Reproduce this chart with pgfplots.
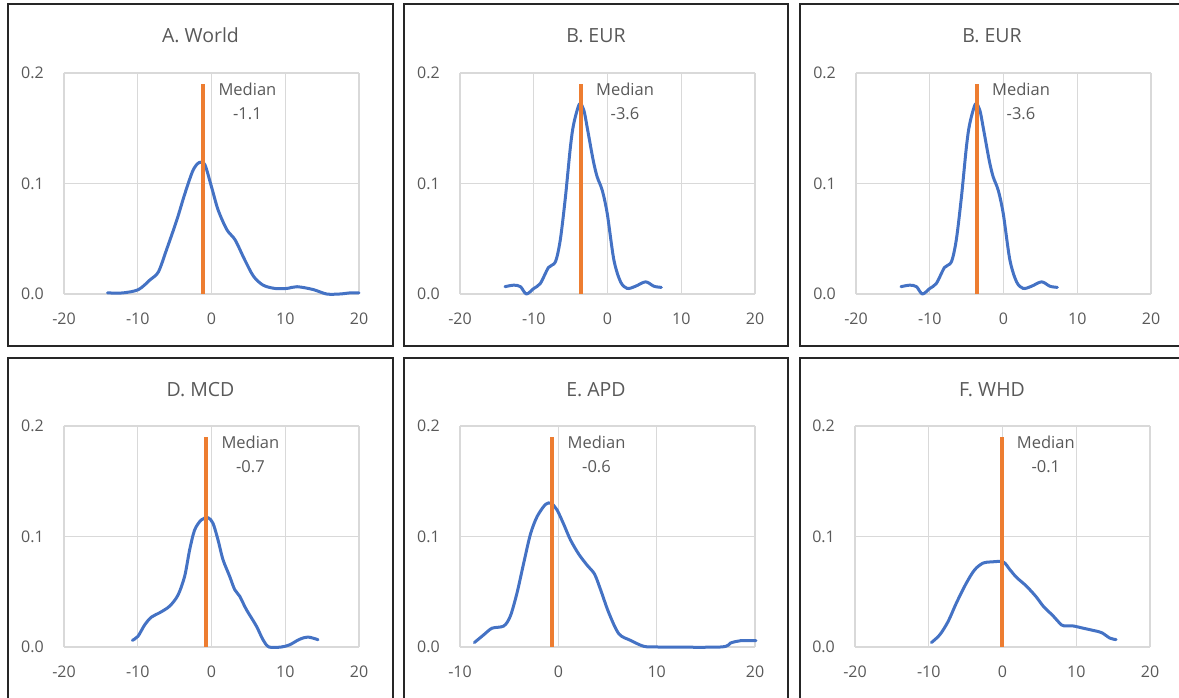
\documentclass[border=0pt]{standalone}
\usepackage{pgfplots}
\pgfplotsset{compat=1.18}
\usepackage{fontspec}
\setmainfont{Open Sans}
\definecolor{cblue}{HTML}{4472C4}
\definecolor{corange}{HTML}{ED7D31}
\definecolor{gridc}{HTML}{D9D9D9}
\definecolor{txt}{HTML}{595959}
\definecolor{frame}{HTML}{262626}
\pgfplotsset{
  panel/.style={
    scale only axis, width=295pt, height=221pt, anchor=south west,
    xmin=-20, xmax=20, ymin=0, ymax=0.2,
    xtick={-20,-10,0,10,20}, ytick={0,0.1,0.2},
    grid=major, major grid style={draw=gridc, line width=1.2pt},
    axis line style={draw=none}, major tick length=0pt, tick style={draw=none},
    clip=false,
    /pgf/number format/assume math mode=true,
    tick label style={font=\fontsize{16}{19}\selectfont, text=txt, inner sep=0pt},
    yticklabel style={/pgf/number format/fixed, /pgf/number format/fixed zerofill, /pgf/number format/precision=1, xshift=-20pt},
    xticklabel style={yshift=-19pt},
  },
}
\tikzset{
  dens/.style={cblue, line width=3pt, smooth, line cap=round, line join=round},
  med/.style={corange, line width=4pt},
  medlab/.style={anchor=north west, xshift=15pt, yshift=1pt, align=center, inner sep=0pt, font=\fontsize{16.5}{24}\selectfont, text=txt},
  ttl/.style={anchor=base, font=\fontsize{19.5}{23}\selectfont, text=txt},
}
\begin{document}
\begin{tikzpicture}[x=1pt,y=1pt]
\useasboundingbox (0,0) rectangle (1179,698);
\begin{scope}
\clip (0,0) rectangle (1179,698);
\draw[frame, line width=1.6pt] (8,352) rectangle (393,694);
\draw[frame, line width=1.6pt] (404,352) rectangle (788,694);
\draw[frame, line width=1.6pt] (800,352) rectangle (1186,694);
\draw[frame, line width=1.6pt] (8,-6) rectangle (393,340);
\draw[frame, line width=1.6pt] (404,-6) rectangle (788,340);
\draw[frame, line width=1.6pt] (800,-6) rectangle (1186,340);
\end{scope}
\node[ttl] at (200.5,655.7) {A. World};
\node[ttl] at (596,655.7) {B. EUR};
\node[ttl] at (992,655.7) {B. EUR};
\node[ttl] at (200.5,301.3) {D. MCD};
\node[ttl] at (596,301.3) {E. APD};
\node[ttl] at (992,301.3) {F. WHD};

% A. World
\begin{axis}[panel, at={(64pt,404pt)}]
\addplot[dens, no markers] coordinates {
(-14.1,0.001) (-12.0,0.001) (-9.9,0.004) (-8.3,0.013) (-7.2,0.020) (-6.1,0.040)
(-4.7,0.067) (-3.6,0.091) (-2.5,0.112) (-1.65,0.119) (-0.9,0.117) (0.0,0.097)
(0.9,0.076) (2.1,0.058) (3.2,0.049) (4.5,0.031) (5.7,0.016) (7.0,0.008)
(8.6,0.005) (10.2,0.005) (11.6,0.0066) (13.8,0.004) (15.6,0.0) (17.4,0.0)
(18.8,0.001) (20,0.001)};
\addplot[med, no markers] coordinates {(-1.1,0) (-1.1,0.19)};
\node[medlab] at (axis cs:-1.1,0.19) {Median\\-1.1};
\end{axis}

% B. EUR
\begin{axis}[panel, at={(460pt,404pt)}]
\addplot[dens, no markers] coordinates {
(-13.9,0.0066) (-12.7,0.008) (-11.8,0.0066) (-11.0,0.0) (-10.0,0.005) (-9.1,0.0096)
(-8.0,0.024) (-7.07,0.029) (-6.4,0.049) (-5.7,0.088) (-5.03,0.133) (-4.58,0.154)
(-3.8,0.172) (-3.2,0.166) (-2.76,0.151) (-1.94,0.121) (-1.4,0.106) (-0.72,0.094)
(-0.04,0.073) (0.86,0.031) (1.77,0.011) (2.68,0.005) (3.8,0.007) (5.17,0.011)
(6.3,0.007) (7.3,0.006)};
\addplot[med, no markers] coordinates {(-3.6,0) (-3.6,0.19)};
\node[medlab] at (axis cs:-3.6,0.19) {Median\\-3.6};
\end{axis}

% B. EUR (repeated)
\begin{axis}[panel, at={(856pt,404pt)}]
\addplot[dens, no markers] coordinates {
(-13.9,0.0066) (-12.7,0.008) (-11.8,0.0066) (-11.0,0.0) (-10.0,0.005) (-9.1,0.0096)
(-8.0,0.024) (-7.07,0.029) (-6.4,0.049) (-5.7,0.088) (-5.03,0.133) (-4.58,0.154)
(-3.8,0.172) (-3.2,0.166) (-2.76,0.151) (-1.94,0.121) (-1.4,0.106) (-0.72,0.094)
(-0.04,0.073) (0.86,0.031) (1.77,0.011) (2.68,0.005) (3.8,0.007) (5.17,0.011)
(6.3,0.007) (7.3,0.006)};
\addplot[med, no markers] coordinates {(-3.6,0) (-3.6,0.19)};
\node[medlab] at (axis cs:-3.6,0.19) {Median\\-3.6};
\end{axis}

% D. MCD
\begin{axis}[panel, at={(64pt,51pt)}]
\addplot[dens, no markers] coordinates {
(-10.73,0.006) (-9.97,0.0097) (-9.06,0.020) (-8.16,0.027) (-7.03,0.031) (-5.67,0.037)
(-4.54,0.047) (-3.64,0.064) (-2.96,0.088) (-2.28,0.106) (-1.38,0.115) (-0.47,0.117)
(0.20,0.112) (0.88,0.097) (1.56,0.079) (2.46,0.064) (3.14,0.052) (3.82,0.046)
(4.72,0.034) (6.08,0.019) (6.98,0.0066) (7.8,0.0) (9.47,0.0) (10.6,0.002)
(11.95,0.007) (13.08,0.009) (14.44,0.0066)};
\addplot[med, no markers] coordinates {(-0.7,0) (-0.7,0.19)};
\node[medlab] at (axis cs:-0.7,0.19) {Median\\-0.7};
\end{axis}

% E. APD
\begin{axis}[panel, at={(460pt,51pt)}, xmin=-10, xmax=20, xtick={-10,0,10,20}]
\addplot[dens, no markers] coordinates {
(-8.54,0.004) (-7.59,0.011) (-6.74,0.017) (-5.55,0.019) (-4.88,0.028) (-4.2,0.049)
(-3.52,0.076) (-2.84,0.102) (-2.16,0.118) (-1.31,0.129) (-0.74,0.130) (-0.13,0.124)
(0.55,0.111) (1.23,0.097) (2.08,0.084) (2.93,0.074) (3.68,0.066) (4.29,0.052)
(5.13,0.031) (6.15,0.012) (7.34,0.006) (8.7,0.0006) (10.05,0.0) (16.5,0.0)
(17.5,0.0036) (18.54,0.0057) (20.1,0.0057)};
\addplot[med, no markers] coordinates {(-0.6,0) (-0.6,0.19)};
\node[medlab] at (axis cs:-0.6,0.19) {Median\\-0.6};
\end{axis}

% F. WHD
\begin{axis}[panel, at={(855pt,51pt)}]
\addplot[dens, no markers] coordinates {
(-9.64,0.004) (-8.51,0.011) (-7.38,0.023) (-6.24,0.040) (-4.89,0.058) (-3.76,0.070)
(-2.62,0.076) (-1.49,0.077) (0.09,0.077) (1.0,0.070) (1.9,0.063) (3.26,0.055)
(4.62,0.045) (5.52,0.037) (6.88,0.028) (8.0,0.020) (8.69,0.019) (9.6,0.019)
(10.95,0.017) (12.3,0.015) (13.44,0.013) (14.57,0.008) (15.4,0.0067)};
\addplot[med, no markers] coordinates {(-0.1,0) (-0.1,0.19)};
\node[medlab] at (axis cs:-0.1,0.19) {Median\\-0.1};
\end{axis}
\end{tikzpicture}
\end{document}
